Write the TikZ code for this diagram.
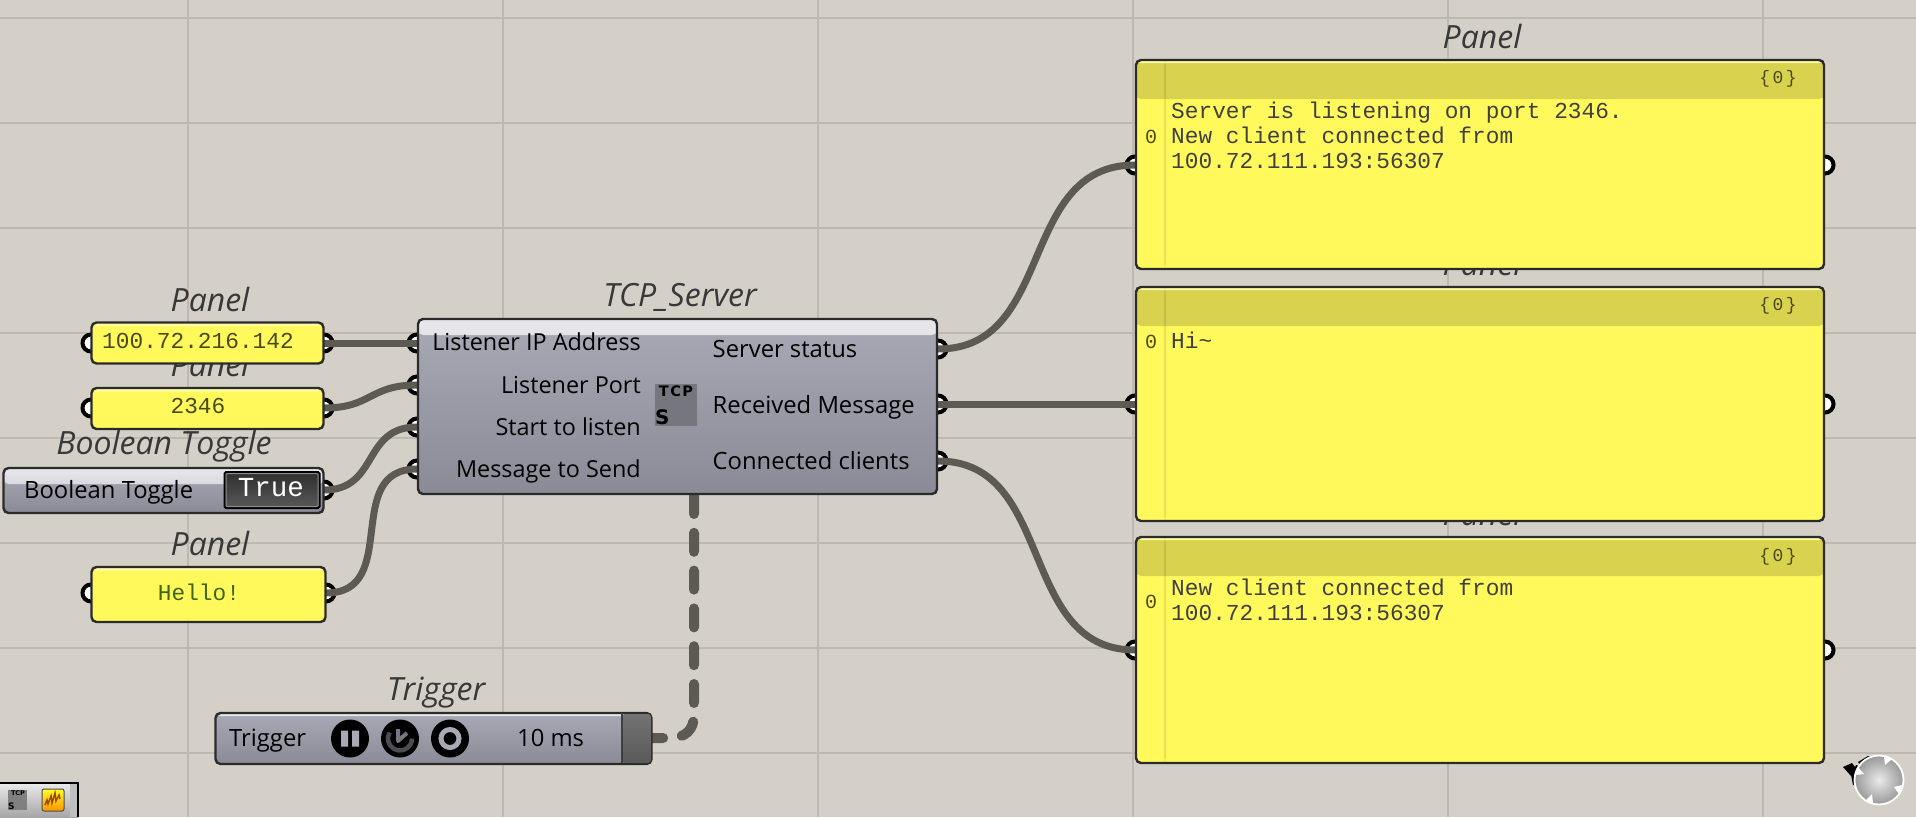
\documentclass[tikz,border=0pt]{standalone}
\usepackage{fontspec}
\setmainfont{Open Sans}
\newfontfamily\pmono{Liberation Mono}
\newfontfamily\iconf{DejaVu Sans}
\usetikzlibrary{shapes.geometric}
\definecolor{canvas}{HTML}{D4D0C8}
\definecolor{gridc}{HTML}{BDB9B1}
\definecolor{wirec}{HTML}{5C5A52}
\definecolor{edge}{HTML}{2B2B2B}
\definecolor{pyellow}{HTML}{FFF95C}
\definecolor{phead}{HTML}{D9D24E}
\definecolor{ptext}{HTML}{4A4A18}
\definecolor{ctop}{HTML}{A9A9B6}
\definecolor{cbot}{HTML}{8B8B97}
\definecolor{glosstop}{HTML}{E8E8EC}
\definecolor{glossbot}{HTML}{BDBDC8}
\tikzset{
  gh/.style={x=1pt,y=-1pt},
  gridline/.style={draw=gridc,line width=1.6pt},
  wire/.style={draw=wirec,line width=7pt},
  dashwire/.style={draw=wirec,line width=10pt,line cap=round,dash pattern=on 19pt off 18.8pt},
  port/.style={circle,draw=black,fill=white,line width=4pt,minimum size=17pt,inner sep=0pt},
  titletxt/.style={font=\fontsize{32}{32}\selectfont\itshape,text=black!78},
  captxt/.style={font=\fontsize{23.8}{23.8}\selectfont,text=black,inner sep=0pt},
  captxtl/.style={font=\fontsize{23.4}{23.4}\selectfont,text=black,inner sep=0pt},
  mono/.style={font=\pmono\fontsize{22.8}{22.8}\selectfont,text=ptext,inner sep=0pt},
  monob/.style={font=\pmono\fontsize{22.8}{22.8}\selectfont,text=black!75,inner sep=0pt},
  idx/.style={font=\pmono\fontsize{20}{20}\selectfont,text=ptext,inner sep=0pt},
  panelbox/.style={draw=edge,line width=2.4pt,rounded corners=5pt,fill=pyellow,inner sep=0pt,
    path picture={\fill[pyellow!55!white] (path picture bounding box.north west) rectangle ([yshift=-3.5pt]path picture bounding box.north east);}},
  bigpanel/.style={draw=edge,line width=2.4pt,rounded corners=5pt,fill=pyellow,inner sep=0pt,minimum width=688pt,
    path picture={
      \fill[phead] (path picture bounding box.north west) rectangle ([yshift=-39pt]path picture bounding box.north east);
      \fill[pyellow!55!white] (path picture bounding box.north west) rectangle ([yshift=-3pt]path picture bounding box.north east);
      \fill[black,opacity=.09] ([xshift=28pt]path picture bounding box.north west) rectangle ([xshift=30pt]path picture bounding box.south west);
    }},
  compbox/.style={draw=edge,line width=2.4pt,rounded corners=5pt,inner sep=0pt,top color=ctop,bottom color=cbot},
  glossy/.style={path picture={
      \shade[top color=glosstop,bottom color=glossbot] (path picture bounding box.north west) rectangle ([yshift=-#1]path picture bounding box.north east);
    }},
  tbtn/.style={circle,fill=black,minimum size=38pt,inner sep=0pt},
}
\begin{document}
\begin{tikzpicture}[gh]
\useasboundingbox (0,0) rectangle (1916,817);
\fill[canvas] (0,0) rectangle (1916,817);
% grid
\foreach \gx in {188,503,818,1133,1448,1763} \draw[gridline] (\gx,0) -- (\gx,817);
\foreach \gy in {18,123,228,333,438,543,648,753} \draw[gridline] (0,\gy) -- (1916,\gy);

% titles (drawn first: the boxes overlap them)
\node[titletxt] (tp1) at (210,299) {Panel};
\node[titletxt] (tp2) at (210,364) {Panel};
\node[titletxt] (tpt) at (164,446) {Boolean Toggle};
\node[titletxt] (tp4) at (210,543) {Panel};
\node[titletxt] (tsrv) at (680,297) {TCP\_Server};
\node[titletxt] (ttrg) at (436,693) {Trigger};
\node[titletxt] (tr1) at (1482,36) {Panel};
\node[titletxt] (tr2) at (1482,263) {Panel};
\node[titletxt] (tr3) at (1482,513) {Panel};

% ports
\foreach \pn/\px/\py in {a0/91/343,a1/324/343,b0/91/408,b1/324/408,t1/324/490,c0/91/593,c1/326/593,
  i1/417/343,i2/417/385,i3/417/427,i4/417/469,o1/938/349,o2/938/404,o3/938/461,
  r1/1135/165,s1/1825/165,r2/1135/404,s2/1825/404,r3/1135/650,s3/1825/650}
  \node[port] (\pn) at (\px,\py) {};
\coordinate (trgout) at (652,738);
\coordinate (srvbot) at (694,495);

% wires
\draw[wire] (a1.center) -- (i1.center);
\draw[wire] (b1.center) .. controls +(48,0) and +(-48,0) .. (i2.center);
\draw[wire] (t1.center) .. controls +(55,0) and +(-55,0) .. (i3.center);
\draw[wire] (c1.center) .. controls +(76,0) and +(-76,0) .. (i4.center);
\draw[wire] (o1.center) .. controls +(118,0) and +(-118,0) .. (r1.center);
\draw[wire] (o2.center) -- (r2.center);
\draw[wire] (o3.center) .. controls +(118,0) and +(-118,0) .. (r3.center);
\draw[dashwire] (srvbot) -- (694,715) .. controls (694,730) and (685,738) .. (670,738) -- (trgout);

% small panels
\node[panelbox,minimum width=232pt,minimum height=41pt] (p1) at (207.5,343) {};
\node[mono,anchor=base] (p1t) at (198,348) {100.72.216.142};
\node[panelbox,minimum width=232pt,minimum height=41pt] (p2) at (207.5,408.5) {};
\node[mono,anchor=base] (p2t) at (198,413.5) {2346};
\node[panelbox,minimum width=234pt,minimum height=55pt] (p4) at (208.5,594.5) {};
\node[mono,text=ptext!85!green,anchor=base] (p4t) at (199,600) {Hello!};

% boolean toggle
\node[compbox,glossy=16pt,minimum width=320pt,minimum height=45pt] (tog) at (163.5,490.5) {};
\node[captxt,anchor=base west] (togt) at (24,498.5) {Boolean Toggle};
\node[draw=black,line width=2pt,top color=black!82,bottom color=black!65,inner sep=0pt,minimum width=95pt,minimum height=36pt,rounded corners=1.5pt] (togb) at (272,490) {};
\draw[black!45,line width=1pt,rounded corners=1pt] ([shift={(2.5pt,-2.5pt)}]togb.north west) rectangle ([shift={(-2.5pt,2.5pt)}]togb.south east);
\node[font=\pmono\fontsize{27.5}{27.5}\selectfont,text=white,inner sep=0pt,anchor=base] (togv) at (271,496) {True};

% server component
\node[compbox,glossy=16pt,minimum width=519pt,minimum height=175pt] (srv) at (677.5,406.5) {};
\foreach \tn/\ty/\tl in {l1/350.5/Listener IP Address,l2/393.5/Listener Port,l3/435/Start to listen,l4/477/Message to Send}
  \node[captxtl,anchor=base east] (\tn) at (641,\ty) {\tl};
\foreach \tn/\ty/\tl in {m1/357.5/Server status,m2/413.5/Received Message,m3/469.5/Connected clients}
  \node[captxt,anchor=base west] (\tn) at (712.5,\ty) {\tl};
\node[fill=black!30!ctop,minimum width=42pt,minimum height=42pt,inner sep=0pt] (ico) at (676,405) {};
\node[font=\iconf\bfseries\fontsize{14.5}{14.5}\selectfont,text=black,inner sep=0pt,anchor=base] (icot) at (676,396) {T\kern1.5pt C\kern1.5pt P};
\node[font=\iconf\bfseries\fontsize{20}{20}\selectfont,text=black,inner sep=0pt,anchor=base west] (icos) at (655,424) {S};

% trigger
\node[compbox,glossy=3pt,minimum width=436pt,minimum height=51pt] (trg) at (433.5,738.5) {};
\node[captxt,anchor=base west] (trgt) at (229,746) {Trigger};
\node[captxt,anchor=base west] (trgv) at (517,746) {10 ms};
\node[tbtn] (b1x) at (350,738.5) {};
\node[tbtn] (b2x) at (400,738.5) {};
\node[tbtn] (b3x) at (450,738.5) {};
\fill[ctop] (341,730.5) rectangle (348,746.5) (352,730.5) rectangle (359,746.5);
\draw[black!55!ctop,line width=4.5pt] (389.6,732.5) arc[start angle=-150,end angle=-360,radius=12];
\draw[black!30!ctop,line width=4pt,line join=round] (398,729) -- (398,741) -- (407,733);
\draw[ctop,line width=5pt] (450,738.5) circle[radius=9];
\path[top color=black!55,bottom color=black!65,rounded corners=3pt] (622,714) rectangle (651,763);
\draw[black!75,line width=1.5pt] (622,713) -- (622,763);

% big panels
\node[bigpanel,minimum height=209pt] (q1) at (1480,164.5) {};
\node[bigpanel,minimum height=234pt] (q2) at (1480,404) {};
\node[bigpanel,minimum height=226pt] (q3) at (1480,650) {};
\node[monob,anchor=base west] (q1a) at (1171,118) {Server is listening on port 2346.};
\node[monob,anchor=base west] (q1b) at (1171,143) {New client connected from};
\node[monob,anchor=base west] (q1c) at (1171,168) {100.72.111.193:56307};
\node[idx,anchor=base] (q1i) at (1151,143) {0};
\node[monob,anchor=base west] (q2a) at (1171,348) {Hi\textasciitilde};
\node[idx,anchor=base] (q2i) at (1151,348) {0};
\node[monob,anchor=base west] (q3a) at (1171,595) {New client connected from};
\node[monob,anchor=base west] (q3b) at (1171,620) {100.72.111.193:56307};
\node[idx,anchor=base] (q3i) at (1151,608) {0};
\node[idx,anchor=base,font=\pmono\fontsize{18}{18}\selectfont] (q1h) at (1778,83) {\{\kern2.5pt0\kern2.5pt\}};
\node[idx,anchor=base,font=\pmono\fontsize{18}{18}\selectfont] (q2h) at (1778,310) {\{\kern2.5pt0\kern2.5pt\}};
\node[idx,anchor=base,font=\pmono\fontsize{18}{18}\selectfont] (q3h) at (1778,561) {\{\kern2.5pt0\kern2.5pt\}};

% bottom-left toolbar
\path[top color=black!8,bottom color=black!35] (0,783) rectangle (78,817);
\fill[black!25] (70,784) rectangle (77,817);
\draw[black,line width=1.8pt] (0,783) -- (78,783) -- (78,817);
\fill[black!50] (8,790) rectangle (27,810);
\node[font=\iconf\bfseries\fontsize{6.5}{6.5}\selectfont,inner sep=0pt,anchor=base] (tbt) at (18,795) {TCP};
\node[font=\iconf\bfseries\fontsize{9}{9}\selectfont,inner sep=0pt,anchor=base west] (tbs) at (8,809) {S};
\node[draw=black!70,line width=1pt,top color=yellow!85!white,bottom color=orange!85!yellow,minimum size=22pt,inner sep=0pt,rounded corners=2pt] (tby) at (53,800) {};
\draw[orange!60!black,line width=1.5pt] (45,805) -- (47,800) -- (48,804) -- (51,796) -- (52,803) -- (55,793) -- (56,801) -- (59,795) -- (60,799);

% navigation ball
\fill[black] (1843,767) -- (1852,763) -- (1858,771) -- (1851,776) -- cycle;
\fill[black] (1851,775) -- (1856,765) -- (1866,768) -- (1858,786) -- (1853,785) -- cycle;
\fill[black] (1858,762) -- (1868,756) -- (1877,758) -- (1866,772) -- cycle;
\draw[white,line width=1.8pt,inner color=black!8,outer color=black!40] (1879,780) circle[radius=24.5];
\fill[white] (1884,757) -- (1892,759) -- (1885,765) -- cycle;
\fill[white] (1902,785) -- (1899,794) -- (1894,787) -- cycle;
\fill[white] (1873,803) -- (1865,801) -- (1872,794) -- cycle;
\fill[white] (1856,775) -- (1858,767) -- (1864,774) -- cycle;
\end{tikzpicture}
\end{document}
